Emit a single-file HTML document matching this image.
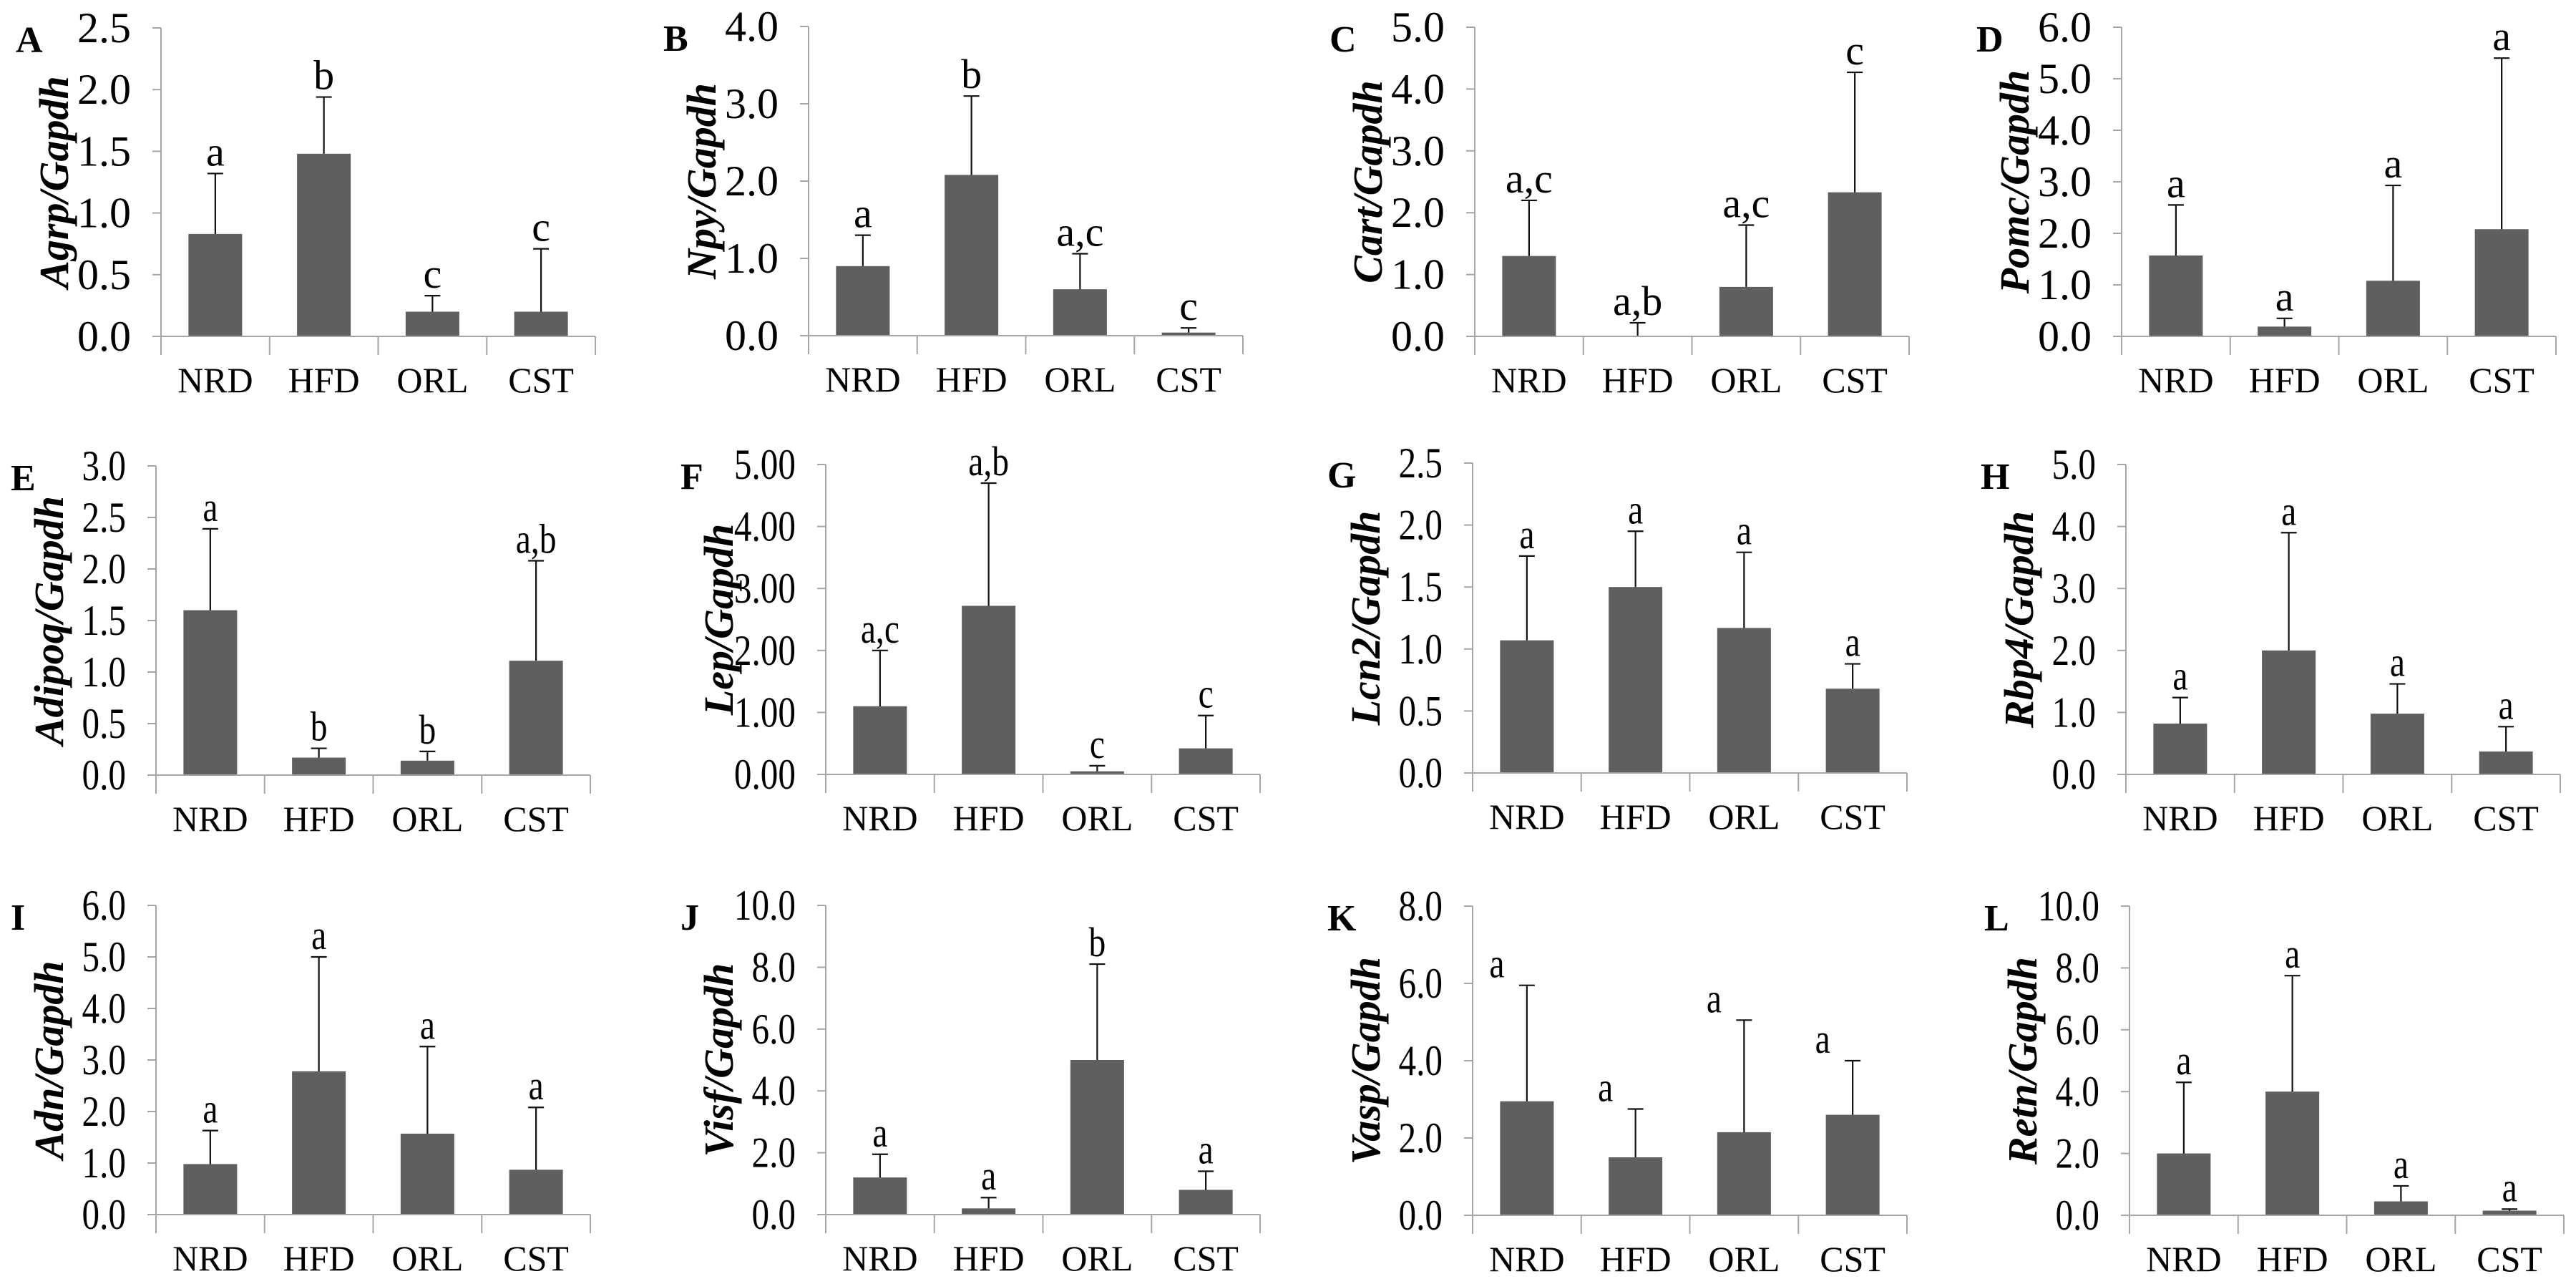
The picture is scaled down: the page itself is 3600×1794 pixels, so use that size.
<!DOCTYPE html>
<html><head><meta charset="utf-8"><style>
html,body{margin:0;padding:0;background:#fff;}
svg{display:block;font-family:"Liberation Serif",serif;}
</style></head><body>
<svg id="fig" width="3600" height="1794" viewBox="0 0 3600 1794" xmlns="http://www.w3.org/2000/svg"></svg>
<script>
const categories = ["NRD","HFD","ORL","CST"];
const meansA=[0.83,1.48,0.2,0.2], topsA=[1.32,1.94,0.33,0.71], lettersA=["a","b","c","c"];
const meansB=[0.9,2.08,0.6,0.04], topsB=[1.3,3.1,1.06,0.1], lettersB=["a","b","a,c","c"];
const meansC=[1.3,0,0.8,2.33], topsC=[2.2,0.22,1.8,4.27], lettersC=["a,c","a,b","a,c","c"];
const meansD=[1.57,0.19,1.08,2.08], topsD=[2.55,0.35,2.93,5.4], lettersD=["a","a","a","a"];
const meansE=[1.6,0.17,0.14,1.11], topsE=[2.39,0.26,0.23,2.08], lettersE=["a","b","b","a,b"];
const meansF=[1.1,2.72,0.05,0.42], topsF=[2.0,4.7,0.14,0.95], lettersF=["a,c","a,b","c","c"];
const meansG=[1.07,1.5,1.17,0.68], topsG=[1.75,1.95,1.78,0.88], lettersG=["a","a","a","a"];
const meansH=[0.82,2.0,0.98,0.37], topsH=[1.24,3.9,1.46,0.77], lettersH=["a","a","a","a"];
const meansI=[0.98,2.78,1.57,0.87], topsI=[1.63,5.0,3.26,2.08], lettersI=["a","a","a","a"];
const meansJ=[1.2,0.2,5.0,0.8], topsJ=[1.95,0.55,8.1,1.4], lettersJ=["a","a","b","a"];
const meansK=[2.95,1.5,2.15,2.6], topsK=[5.95,2.75,5.05,4.0], lettersK=["a","a","a","a"];
const meansL=[2.0,4.0,0.45,0.15], topsL=[4.3,7.75,0.95,0.2], lettersL=["a","a","a","a"];
const yMaxes=[2.5,4,5,6,3,5,2.5,5,6,10,8,10];
const ySteps=[0.5,1,1,1,0.5,1,0.5,1,1,2,2,2];
const yDecimals=[1,1,1,1,1,2,1,1,1,1,1,1];
const genes=["Agrp","Npy","Cart","Pomc","Adipoq","Lep","Lcn2","Rbp4","Adn","Visf","Vasp","Retn"];
const panelLetters=["A","B","C","D","E","F","G","H","I","J","K","L"];

const allMeans=[meansA,meansB,meansC,meansD,meansE,meansF,meansG,meansH,meansI,meansJ,meansK,meansL];
const allTops=[topsA,topsB,topsC,topsD,topsE,topsF,topsG,topsH,topsI,topsJ,topsK,topsL];
const allLetters=[lettersA,lettersB,lettersC,lettersD,lettersE,lettersF,lettersG,lettersH,lettersI,lettersJ,lettersK,lettersL];
const layout=[[225,39,470],[1130,37,469],[2061,38,470],[2965,38,470],
              [218,651,1083],[1154,649,1082],[2058,647,1080],[2971,649,1082],
              [218,1265,1697],[1154,1265,1697],[2058,1266,1698],[2976,1266,1698]];
const NS="http://www.w3.org/2000/svg";
const svg=document.getElementById('fig');
function mk(tag,attrs,parent){const e=document.createElementNS(NS,tag);for(const k in attrs)e.setAttribute(k,attrs[k]);(parent||svg).appendChild(e);return e;}

for(let p=0;p<12;p++){
  const [ax,top,zero]=layout[p];
  const W=607, cw=W/4, bw=75;
  const row=Math.floor(p/4);
  const g=mk('g',{});
  
  
  const yS=v=>zero-(v/yMaxes[p])*(zero-top);
  const xC=i=>ax+cw*(i+0.5);
  const pl=mk('text',{x:ax-203,y:top+34,'font-size':52,'font-weight':'bold'},g);
  pl.textContent=panelLetters[p];
  
  
  const cy=(top+zero)/2;
  const yt=mk('text',{x:0,y:0,'font-size':58,'font-weight':'bold','font-style':'italic','text-anchor':'middle',transform:`translate(${ax-130},${cy}) rotate(-90)`},g);
  yt.textContent=genes[p]+'/Gapdh';
  
  
  const sx=row===0?1:0.82;
  for(let v=0; v<=yMaxes[p]+1e-9; v+=ySteps[p]){
    const y=yS(v);
    mk('line',{x1:ax-12,x2:ax,y1:y,y2:y,stroke:'#a6a6a6','stroke-width':2},g);
    const t=mk('text',{x:0,y:0,'font-size':60,'text-anchor':'end',transform:`translate(${ax-42},${y+20}) scale(${sx},1)`},g);
    t.textContent=v.toFixed(yDecimals[p]);
    
    
  }
  const yax=mk('line',{x1:ax,x2:ax,y1:top,y2:zero+26,stroke:'#a6a6a6','stroke-width':2},g);
  
  
  for(let i=0;i<4;i++){
    const cx=xC(i), m=allMeans[p][i], tp=allTops[p][i];
    const b=mk('rect',{x:cx-bw/2,y:yS(m),width:bw,height:zero-yS(m),fill:'#5f5f5f'},g);
    
    
    const e=mk('path',{d:`M${cx},${yS(m)}V${yS(tp)}M${cx-11},${yS(tp)}H${cx+11}`,stroke:'#111','stroke-width':2.2,fill:'none'},g);
    
    
    const dx=(p===10)?-42:0;
    const lt=mk('text',{x:0,y:0,'font-size':58,'text-anchor':'middle',transform:`translate(${cx+dx},${yS(tp)-11}) scale(${sx},1)`},g);
    lt.textContent=allLetters[p][i];
    
    
    const ct=mk('text',{x:cx,y:zero+78,'font-size':50,'text-anchor':'middle'},g);
    ct.textContent=categories[i];
    
    
  }
  const xax=mk('line',{x1:ax-12,x2:ax+W,y1:zero,y2:zero,stroke:'#a6a6a6','stroke-width':2},g);
  
  
  for(let i=1;i<=4;i++){
    const x=ax+cw*i;
    mk('line',{x1:x,x2:x,y1:zero,y2:zero+26,stroke:'#a6a6a6','stroke-width':2},g);
  }
}
</script>
</body></html>
